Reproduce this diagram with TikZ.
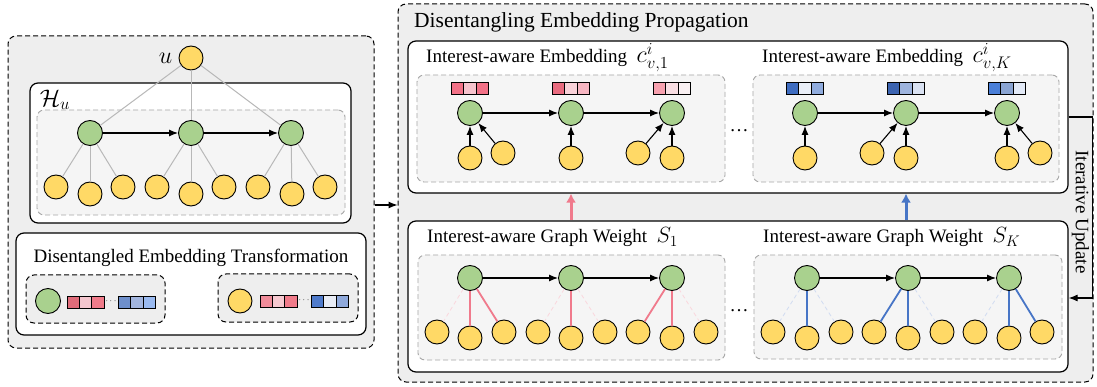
\RequirePackage{fix-cm}
\documentclass[tikz,border=0pt]{standalone}
\usepackage{fontspec}
\setmainfont{Liberation Serif}
\usepackage{xcolor}
\usepackage{tikz}
\usetikzlibrary{
    arrows.meta,
    positioning
}

\definecolor{itemgreen}{HTML}{A9D18E}
\definecolor{useryellow}{HTML}{FFD966}
\definecolor{panelgray}{HTML}{EEEEEE}
\definecolor{innergray}{HTML}{F5F5F5}
\definecolor{pinkw}{HTML}{F07A8C}
\definecolor{bluew}{HTML}{4775C6}
\definecolor{ea1}{HTML}{F27187}
\definecolor{ea2}{HTML}{F7C3CD}
\definecolor{eb1}{HTML}{E96B7F}
\definecolor{eb2}{HTML}{F9D2D9}
\definecolor{eb3}{HTML}{F7B6C2}
\definecolor{ec1}{HTML}{F7A1AF}
\definecolor{ec2}{HTML}{F9DEE3}
\definecolor{ec3}{HTML}{F9F0F2}
\definecolor{fa1}{HTML}{3F6DC1}
\definecolor{fa2}{HTML}{EAEFF8}
\definecolor{fa3}{HTML}{90ACDE}
\definecolor{fb1}{HTML}{3C64B1}
\definecolor{fb2}{HTML}{9EB4DE}
\definecolor{fb3}{HTML}{DAE2F2}
\definecolor{fc1}{HTML}{4A7FD8}
\definecolor{fc2}{HTML}{8AA4D2}
\definecolor{fc3}{HTML}{E3EAF7}
\definecolor{ta1}{HTML}{E06C7A}
\definecolor{ta2}{HTML}{F4C6CE}
\definecolor{ta3}{HTML}{F07B8A}
\definecolor{tb1}{HTML}{6E8FCB}
\definecolor{tb2}{HTML}{A2B5DE}
\definecolor{tb3}{HTML}{9ABAF0}
\definecolor{ua1}{HTML}{F08C9A}
\definecolor{ua2}{HTML}{F6C9D0}
\definecolor{ub1}{HTML}{4F7BCB}
\definecolor{ub2}{HTML}{E8ECF5}
\definecolor{ub3}{HTML}{8FA9DB}

\begin{document}
\begin{tikzpicture}[
    x=1pt, y=-1pt,
    outerbox/.style={
        draw,
        dash pattern=on 5pt off 3pt,
        fill=panelgray,
        rounded corners=8pt,
        line width=1pt,
        inner sep=0
    },
    whitebox/.style={
        draw,
        fill=white,
        rounded corners=8pt,
        line width=1.2pt,
        inner sep=0
    },
    innerbox/.style={
        draw=black!35,
        dash pattern=on 5pt off 3pt,
        fill=innergray,
        rounded corners=7pt,
        line width=0.9pt,
        inner sep=0
    },
    smallbox/.style={
        draw,
        dash pattern=on 5pt off 3pt,
        fill=panelgray,
        rounded corners=8pt,
        line width=1pt,
        inner sep=0
    },
    gnode/.style={
        circle,
        draw,
        fill=itemgreen,
        minimum size=25pt,
        inner sep=0,
        line width=0.9pt
    },
    ynode/.style={
        circle,
        draw,
        fill=useryellow,
        minimum size=24pt,
        inner sep=0,
        line width=0.9pt
    },
    cell/.style={
        draw,
        minimum width=12.3pt,
        minimum height=12pt,
        inner sep=0,
        outer sep=0,
        line width=0.9pt
    },
    label/.style={anchor=base west, inner sep=0, font=\fontsize{19}{22}\selectfont},
    treeline/.style={draw=black!28, line width=1pt},
    arrow/.style={-{Latex[length=9pt,width=7pt]}, line width=1.1pt},
    pinkline/.style={draw=pinkw, line width=1.8pt},
    pinkfaint/.style={draw=pinkw!30, dash pattern=on 4pt off 3pt, line width=0.8pt},
    blueline/.style={draw=bluew, line width=1.8pt},
    bluefaint/.style={draw=bluew!25, dash pattern=on 4pt off 3pt, line width=0.8pt},
    uparrow/.style={-{Latex[length=9pt,width=10pt]}, line width=3pt}
]

\useasboundingbox (0,0) rectangle (1097,387);

\node[outerbox, minimum width=366pt, minimum height=312pt] (leftpanel) at (191,192) {};
\node[whitebox, minimum width=321pt, minimum height=140pt] (hbox) at (190.5,153) {};
\node[innerbox, minimum width=308pt, minimum height=105pt] (hinner) at (191,162.5) {};
\node[whitebox, minimum width=350pt, minimum height=102pt] (transbox) at (191,284) {};
\node[smallbox, minimum width=139pt, minimum height=48pt] (tgreen) at (95.5,299) {};
\node[smallbox, minimum width=140pt, minimum height=48pt] (tyellow) at (288,298) {};

\node[outerbox, minimum width=695pt, minimum height=378pt] (rightpanel) at (745.5,193) {};
\node[whitebox, minimum width=660pt, minimum height=152pt] (embbox) at (738,117) {};
\node[innerbox, minimum width=308pt, minimum height=107pt] (embL) at (571,128.5) {};
\node[innerbox, minimum width=306pt, minimum height=107pt] (embR) at (906,128.5) {};
\node[whitebox, minimum width=660pt, minimum height=151pt] (graphbox) at (738,296.5) {};
\node[innerbox, minimum width=307pt, minimum height=105pt] (grL) at (571.5,307.5) {};
\node[innerbox, minimum width=308pt, minimum height=104pt] (grR) at (908,307) {};

\node[anchor=base west, inner sep=0, font=\fontsize{21.5}{24}\selectfont] (ptitle) at (414,28)
{Disentangling Embedding Propagation};
\node[label] (etitle1) at (426,63) {Interest-aware Embedding\ \ {\fontsize{24}{26}\selectfont$c_{v,1}^{i}$}};
\node[label] (etitle2) at (762,63) {Interest-aware Embedding\ \ {\fontsize{24}{26}\selectfont$c_{v,K}^{i}$}};
\node[label] (gtitle1) at (427,243) {Interest-aware Graph Weight\ \ {\fontsize{22}{24}\selectfont$S_1$}};
\node[label] (gtitle2) at (763,243) {Interest-aware Graph Weight\ \ {\fontsize{22}{24}\selectfont$S_K$}};
\node[anchor=base, inner sep=0, font=\fontsize{19}{22}\selectfont] (ttitle) at (191,263)
{Disentangled Embedding Transformation};

\node[ynode] (u) at (191,58) {};
\node[left=6pt of u, inner sep=0, font=\fontsize{24}{26}\selectfont] (ulabel) {$u$};
\node[inner sep=0, font=\fontsize{24}{26}\selectfont] (hlabel) at (55,100) {$\mathcal{H}_u$};

\node[gnode] (h1) at (90,133) {};
\node[gnode] (h2) at (191,133) {};
\node[gnode] (h3) at (291,133) {};

\node[ynode] (l1) at (56,187) {};
\node[ynode] (l2) at (90,194) {};
\node[ynode] (l3) at (123,187) {};
\node[ynode] (l4) at (157,187) {};
\node[ynode] (l5) at (191,194) {};
\node[ynode] (l6) at (224,187) {};
\node[ynode] (l7) at (258,187) {};
\node[ynode] (l8) at (292,194) {};
\node[ynode] (l9) at (325,187) {};

\draw[treeline] (u) -- (h1);
\draw[treeline] (u) -- (h2);
\draw[treeline] (u) -- (h3);
\draw[treeline] (h1) -- (l1);
\draw[treeline] (h1) -- (l2);
\draw[treeline] (h1) -- (l3);
\draw[treeline] (h2) -- (l4);
\draw[treeline] (h2) -- (l5);
\draw[treeline] (h2) -- (l6);
\draw[treeline] (h3) -- (l7);
\draw[treeline] (h3) -- (l8);
\draw[treeline] (h3) -- (l9);
\draw[arrow] (h1) -- (h2);
\draw[arrow] (h2) -- (h3);

\node[gnode] (tg) at (48,301) {};
\node[cell, fill=ta2] (tr1) at (85.5,302) {};
\node[cell, fill=ta1, left=0pt of tr1] (tr0) {};
\node[cell, fill=ta3, right=0pt of tr1] (tr2) {};
\node[font=\fontsize{9}{9}\selectfont, inner sep=0] (tdots1) at (111,301) {$\cdots$};
\node[cell, fill=tb2] (tb1c) at (137,302) {};
\node[cell, fill=tb1, left=0pt of tb1c] (tb0c) {};
\node[cell, fill=tb3, right=0pt of tb1c] (tb2c) {};

\node[ynode] (ty) at (240,301) {};
\node[cell, fill=ua2] (ur1) at (278.5,301) {};
\node[cell, fill=ua1, left=0pt of ur1] (ur0) {};
\node[cell, fill=ta3, right=0pt of ur1] (ur2) {};
\node[font=\fontsize{9}{9}\selectfont, inner sep=0] (tdots2) at (304,300) {$\cdots$};
\node[cell, fill=ub2] (ub1c) at (330,301) {};
\node[cell, fill=ub1, left=0pt of ub1c] (ub0c) {};
\node[cell, fill=ub3, right=0pt of ub1c] (ub2c) {};

\draw[arrow] ([yshift=-13pt]leftpanel.east) -- ([yshift=-13pt]leftpanel.east -| rightpanel.west);

\node[gnode] (a1) at (470,113) {};
\node[gnode] (a2) at (571,113) {};
\node[gnode] (a3) at (672,113) {};
\node[ynode] (ay1) at (470,158) {};
\node[ynode] (ay2) at (503,153) {};
\node[ynode] (ay3) at (571,158) {};
\node[ynode] (ay4) at (638,153) {};
\node[ynode] (ay5) at (672,158) {};

\node[cell, fill=ea2] (ea) at (470,88) {};
\node[cell, fill=ea1, left=0pt of ea] (eal) {};
\node[cell, fill=ea1, right=0pt of ea] (ear) {};
\node[cell, fill=eb2] (eb) at (571,88) {};
\node[cell, fill=eb1, left=0pt of eb] (ebl) {};
\node[cell, fill=eb3, right=0pt of eb] (ebr) {};
\node[cell, fill=ec2] (ec) at (672,88) {};
\node[cell, fill=ec1, left=0pt of ec] (ecl) {};
\node[cell, fill=ec3, right=0pt of ec] (ecr) {};

\draw[arrow] (a1) -- (a2);
\draw[arrow] (a2) -- (a3);
\draw[arrow] (ay1) -- (a1);
\draw[arrow] (ay2) -- (a1);
\draw[arrow] (ay3) -- (a2);
\draw[arrow] (ay4) -- (a3);
\draw[arrow] (ay5) -- (a3);

\node[inner sep=0, font=\fontsize{19}{22}\selectfont] (edots) at (739,131) {\ldots};

\node[gnode] (b1) at (805,113) {};
\node[gnode] (b2) at (906,113) {};
\node[gnode] (b3) at (1007,113) {};
\node[ynode] (by1) at (805,158) {};
\node[ynode] (by2) at (872,153) {};
\node[ynode] (by3) at (906,158) {};
\node[ynode] (by4) at (1007,158) {};
\node[ynode] (by5) at (1040,153) {};

\node[cell, fill=fa2] (fa) at (805,88) {};
\node[cell, fill=fa1, left=0pt of fa] (fal) {};
\node[cell, fill=fa3, right=0pt of fa] (far) {};
\node[cell, fill=fb2] (fb) at (906,88) {};
\node[cell, fill=fb1, left=0pt of fb] (fbl) {};
\node[cell, fill=fb3, right=0pt of fb] (fbr) {};
\node[cell, fill=fc2] (fc) at (1007,88) {};
\node[cell, fill=fc1, left=0pt of fc] (fcl) {};
\node[cell, fill=fc3, right=0pt of fc] (fcr) {};

\draw[arrow] (b1) -- (b2);
\draw[arrow] (b2) -- (b3);
\draw[arrow] (by1) -- (b1);
\draw[arrow] (by2) -- (b2);
\draw[arrow] (by3) -- (b2);
\draw[arrow] (by4) -- (b3);
\draw[arrow] (by5) -- (b3);

\node[gnode] (g1) at (470,278) {};
\node[gnode] (g2) at (571,278) {};
\node[gnode] (g3) at (672,278) {};
\node[ynode] (gl1) at (437,332) {};
\node[ynode] (gl2) at (470,338) {};
\node[ynode] (gl3) at (504,332) {};
\node[ynode] (gl4) at (538,332) {};
\node[ynode] (gl5) at (571,338) {};
\node[ynode] (gl6) at (605,332) {};
\node[ynode] (gl7) at (638,332) {};
\node[ynode] (gl8) at (672,338) {};
\node[ynode] (gl9) at (706,332) {};

\draw[pinkfaint] (g1) -- (gl1);
\draw[pinkline] (g1) -- (gl2);
\draw[pinkline] (g1) -- (gl3);
\draw[pinkfaint] (g2) -- (gl4);
\draw[pinkline] (g2) -- (gl5);
\draw[pinkfaint] (g2) -- (gl6);
\draw[pinkline] (g3) -- (gl7);
\draw[pinkline] (g3) -- (gl8);
\draw[pinkfaint] (g3) -- (gl9);
\draw[arrow] (g1) -- (g2);
\draw[arrow] (g2) -- (g3);

\node[inner sep=0, font=\fontsize{19}{22}\selectfont] (gdots) at (739,311) {\ldots};

\node[gnode] (k1) at (807,278) {};
\node[gnode] (k2) at (908,278) {};
\node[gnode] (k3) at (1009,278) {};
\node[ynode] (kl1) at (773,332) {};
\node[ynode] (kl2) at (807,338) {};
\node[ynode] (kl3) at (841,332) {};
\node[ynode] (kl4) at (874,332) {};
\node[ynode] (kl5) at (908,338) {};
\node[ynode] (kl6) at (942,332) {};
\node[ynode] (kl7) at (975,332) {};
\node[ynode] (kl8) at (1009,338) {};
\node[ynode] (kl9) at (1042,332) {};

\draw[bluefaint] (k1) -- (kl1);
\draw[blueline] (k1) -- (kl2);
\draw[bluefaint] (k1) -- (kl3);
\draw[blueline] (k2) -- (kl4);
\draw[blueline] (k2) -- (kl5);
\draw[bluefaint] (k2) -- (kl6);
\draw[bluefaint] (k3) -- (kl7);
\draw[blueline] (k3) -- (kl8);
\draw[blueline] (k3) -- (kl9);
\draw[arrow] (k1) -- (k2);
\draw[arrow] (k2) -- (k3);

\draw[uparrow, draw=pinkw, fill=pinkw] (graphbox.north -| g2) -- (embbox.south -| g2);
\draw[uparrow, draw=bluew, fill=bluew] (graphbox.north -| b2) -- (embbox.south -| b2);

\draw[arrow] (embbox.east) -- ++(24,0) |- ([yshift=-1.5pt]graphbox.east);
\node[rotate=-90, inner sep=0, font=\fontsize{19}{22}\selectfont] (iter) at (1080.5,212) {Iterative Update};

\end{tikzpicture}
\end{document}
